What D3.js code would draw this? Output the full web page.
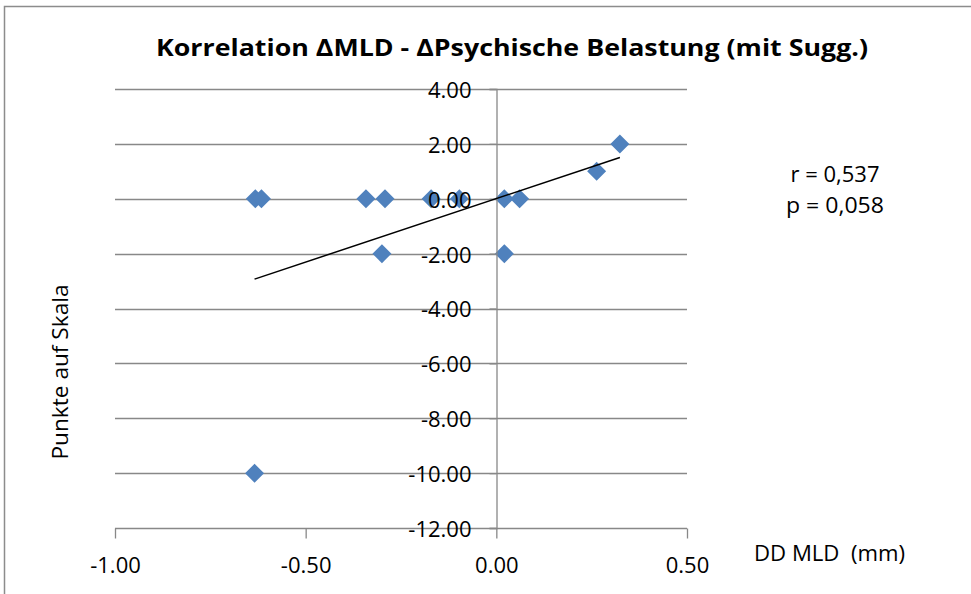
<!DOCTYPE html>
<html>
<head>
<meta charset="utf-8">
<script src="https://cdn.jsdelivr.net/npm/d3@7"></script>
<style>
  body { margin: 0; background: #fff; }
  svg { display: block; font-family: "Open Sans", "Noto Sans", sans-serif; }
  text { white-space: pre; }
</style>
</head>
<body>
<svg id="chart" width="971" height="594"></svg>
<script>
// values
const xVals = [-0.632, -0.616, -0.342, -0.292, -0.171, -0.097, 0.021, 0.061, 0.263, 0.324, -0.300, 0.021, -0.634];
const yVals = [0, 0, 0, 0, 0, 0, 0, 0, 1, 2, -2, -2, -10];
const xTicks = [-1, -0.5, 0, 0.5];
const yTicks = [4, 2, 0, -2, -4, -6, -8, -10, -12];
const statLines = ['r = 0,537', 'p = 0,058'];

const svg = d3.select('#chart');
const BLUE = '#4f81bd', GRID = '#888888';
const fmt = d => d.toFixed(2); // plain hyphen, like the original

// outer frame
svg.append('rect').attr('x', 4.5).attr('y', 6.5).attr('width', 980).attr('height', 600)
  .attr('fill', 'none').attr('stroke', '#8c8c8c').attr('stroke-width', 1.5);

const x = d3.scaleLinear().domain([-1, 0.5]).range([115, 687]);
const y = d3.scaleLinear().domain([-12, 4]).range([528, 89]);

// horizontal grid
svg.append('g').selectAll('line').data(yTicks).join('line')
  .attr('x1', 115).attr('x2', 687)
  .attr('y1', d => Math.round(y(d)) + 0.5).attr('y2', d => Math.round(y(d)) + 0.5)
  .attr('stroke', GRID).attr('stroke-width', 1.3);

// x axis at the bottom
const xAxis = svg.append('g').attr('transform', `translate(0,${Math.round(y(-12)) + 0.5})`)
  .call(d3.axisBottom(x).tickValues(xTicks).tickSize(10).tickPadding(19).tickFormat(fmt));
xAxis.select('.domain').remove();
xAxis.selectAll('line').attr('stroke', GRID).attr('stroke-width', 1.3);
xAxis.selectAll('text').attr('font-size', 22).attr('fill', '#000')
  .attr('font-family', '"Open Sans", sans-serif');

// points
const pts = xVals.map((v, i) => ({ x: v, y: yVals[i] }));
svg.append('g').selectAll('path').data(pts).join('path')
  .attr('transform', d => `translate(${x(d.x)},${y(d.y)})`)
  .attr('d', 'M0,-9.5L9.5,0L0,9.5L-9.5,0Z')
  .attr('fill', BLUE);

// y axis through x = 0 (labels sit over the markers, as in the original)
const yAxis = svg.append('g').attr('transform', `translate(${Math.round(x(0)) + 0.5},0)`)
  .call(d3.axisLeft(y).tickValues(yTicks).tickSize(7).tickPadding(18).tickFormat(fmt));
yAxis.select('.domain').attr('stroke', GRID).attr('stroke-width', 1.3);
yAxis.selectAll('line').attr('stroke', GRID).attr('stroke-width', 1.3);
yAxis.selectAll('text').attr('font-size', 22).attr('fill', '#000').attr('dy', '0.38em')
  .attr('font-family', '"Open Sans", sans-serif');

// linear trend line
const mx = d3.mean(xVals), my = d3.mean(yVals);
const slope = d3.sum(pts, d => (d.x - mx) * (d.y - my)) / d3.sum(pts, d => (d.x - mx) ** 2);
const icpt = my - slope * mx;
const [x0, x1] = d3.extent(xVals);
svg.append('line')
  .attr('x1', x(x0)).attr('y1', y(icpt + slope * x0))
  .attr('x2', x(x1)).attr('y2', y(icpt + slope * x1))
  .attr('stroke', '#000').attr('stroke-width', 1.5);

// title
svg.append('text').attr('x', 512).attr('y', 56).attr('text-anchor', 'middle')
  .attr('font-size', 23).attr('font-weight', 'bold')
  .attr('textLength', 712).attr('lengthAdjust', 'spacingAndGlyphs')
  .text('Korrelation ΔMLD - ΔPsychische Belastung (mit Sugg.)');

// axis titles
svg.append('text').attr('transform', 'translate(68,372) rotate(-90)')
  .attr('text-anchor', 'middle').attr('font-size', 21)
  .attr('textLength', 175).attr('lengthAdjust', 'spacingAndGlyphs')
  .text('Punkte auf Skala');
svg.append('text').attr('x', 754).attr('y', 561).attr('font-size', 21)
  .attr('textLength', 151).attr('lengthAdjust', 'spacingAndGlyphs')
  .text('DD MLD  (mm)');

// stats
svg.append('g').selectAll('text').data(statLines).join('text')
  .attr('x', 835).attr('y', (d, i) => 182 + i * 31).attr('text-anchor', 'middle')
  .attr('font-size', 22)
  .attr('textLength', (d, i) => i ? 98 : 89).attr('lengthAdjust', 'spacingAndGlyphs')
  .text(d => d);
</script>
</body>
</html>
